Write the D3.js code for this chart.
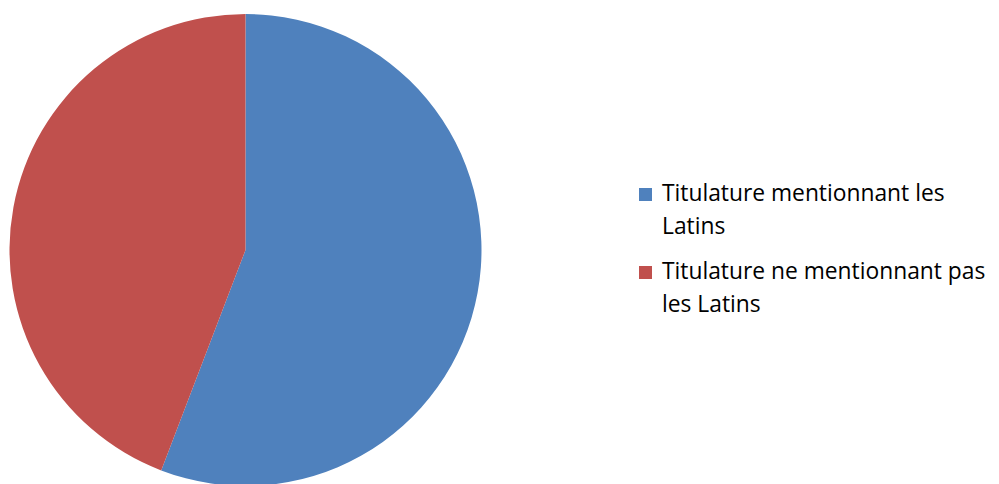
<!DOCTYPE html>
<html><head><meta charset="utf-8">
<script src="https://cdn.jsdelivr.net/npm/d3@7"></script>
<style>html,body{margin:0;padding:0;background:#fff;overflow:hidden}</style>
</head><body>
<script>
const categories = ["Titulature mentionnant les Latins", "Titulature ne mentionnant pas les Latins"];
const values = [24, 19];
const colors = ["#4F81BD", "#C0504D"];
const legendLines = [["Titulature mentionnant les", "Latins"], ["Titulature ne mentionnant pas", "les Latins"]];

const W = 999, H = 484;
const svg = d3.select("body").append("svg").attr("width", W).attr("height", H);

const cx = 245.5, cy = 250, r = 236;
const pie = d3.pie().sort(null).value(d => d)(values);
const arc = d3.arc().innerRadius(0).outerRadius(r);
svg.append("g").attr("transform", `translate(${cx},${cy})`)
  .selectAll("path").data(pie).join("path")
  .attr("d", arc).attr("fill", (d, i) => colors[i]);

const lg = svg.append("g");
const entryY = [188, 266];
categories.forEach((c, i) => {
  const g = lg.append("g").attr("transform", `translate(639,${entryY[i]})`);
  g.append("rect").attr("width", 13).attr("height", 13).attr("fill", colors[i]);
  legendLines[i].forEach((t, j) => {
    g.append("text").attr("x", 23).attr("y", 12.5 + j * 33)
      .attr("font-family", "'Open Sans', sans-serif").attr("font-size", 22.8)
      .attr("fill", "#000").text(t);
  });
});
</script>
</body></html>
